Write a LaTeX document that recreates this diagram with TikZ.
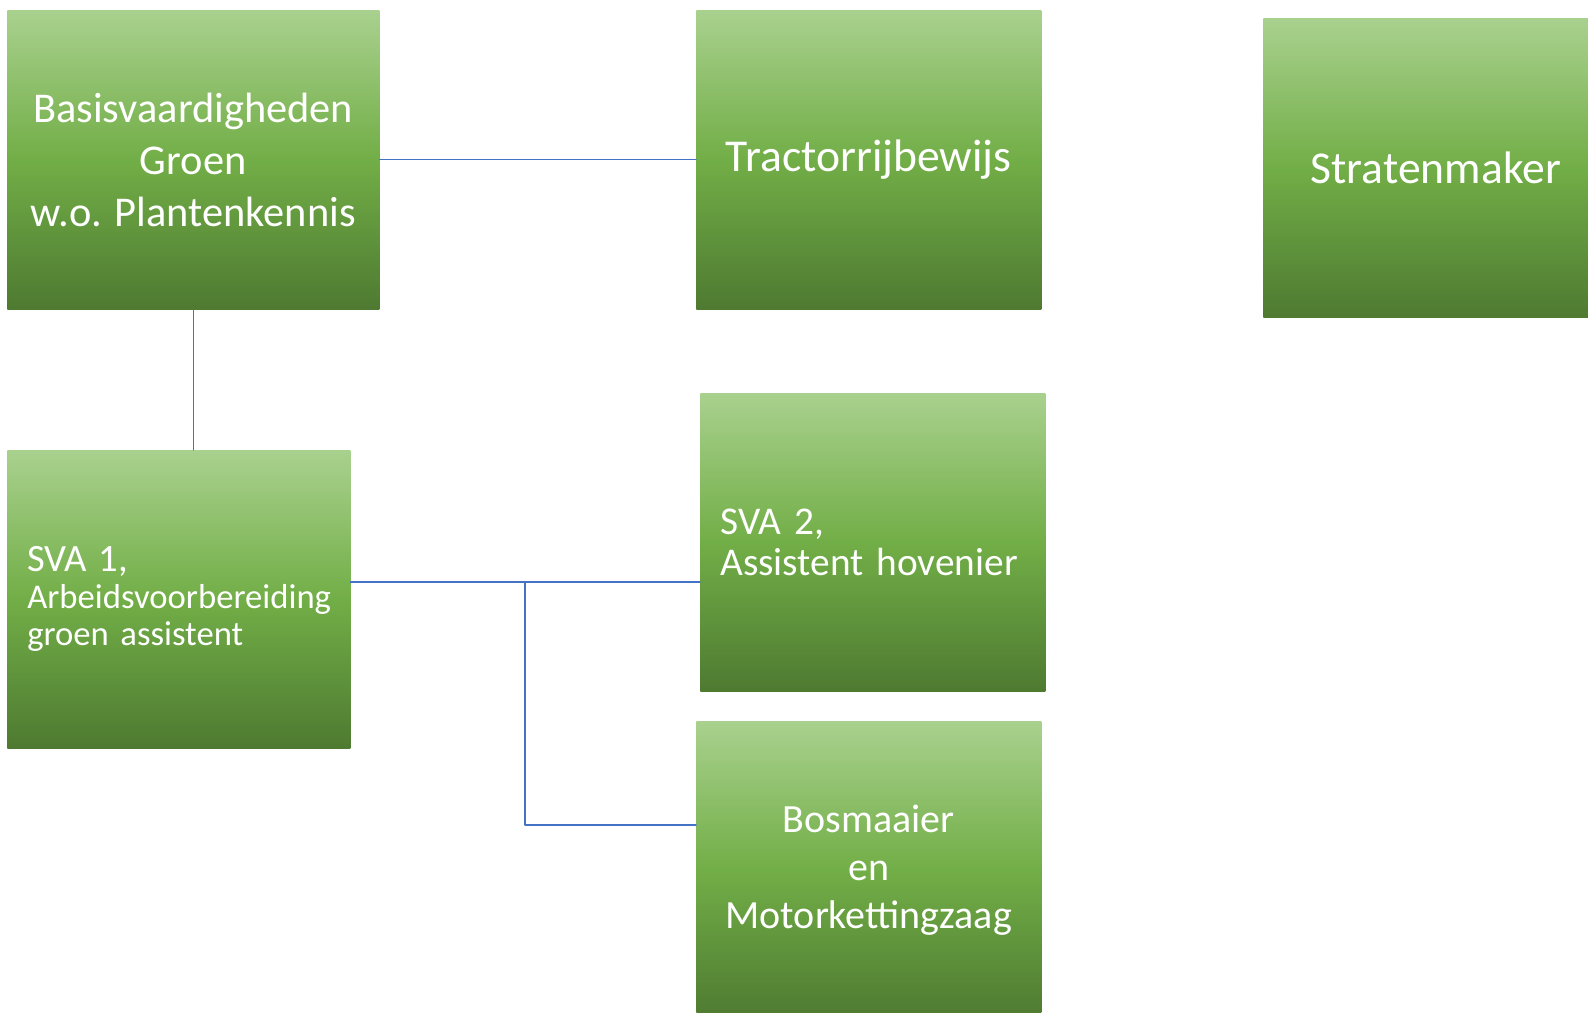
\documentclass[tikz,border=0pt]{standalone}
\usepackage{fontspec}
\setmainfont{Carlito}
\definecolor{lightgreen}{HTML}{A9D18E}
\definecolor{midgreen}{HTML}{72AE47}
\definecolor{darkgreen}{HTML}{4E7A31}
\definecolor{linkblue}{HTML}{4472C4}
\tikzset{
  skill/.style={rectangle, anchor=north west, inner sep=0pt, minimum width=258.75pt, minimum height=223.5pt,
    top color=lightgreen, bottom color=darkgreen, middle color=midgreen, text=white, align=center},
  link/.style={draw=linkblue, line width=1pt}
}
\begin{document}
\begin{tikzpicture} [x=0.75pt, y=-0.75pt, line join=round, line cap=round]
				\useasboundingbox (0,0) rectangle (1588,1013);
				\node[skill, minimum width=279pt, minimum height=224.25pt, font=\fontsize{31.8}{39}\selectfont] (basis) at (7,10) {Basisvaardigheden\\Groen\\w.o. Plantenkennis};
				\node[skill, minimum height=224.25pt, font=\fontsize{34.2}{40}\selectfont] (tractor) at (696,10) {Tractorrijbewijs};
				\node[skill, minimum height=224.25pt, font=\fontsize{34.2}{40}\selectfont] (straat) at (1263,18) {Stratenmaker};
				\node[skill, minimum width=257.25pt, text width=227.25pt, align=left, font=\fontsize{26}{27.75}\selectfont] (sva1) at (7,450) {{\fontsize{29}{27.75}\selectfont SVA 1,}\\Arbeidsvoorbereiding\\groen assistent};
				\node[skill, text width=228.75pt, align=left, font=\fontsize{29.5}{30.75}\selectfont] (sva2) at (700,393) {SVA 2,\\Assistent hovenier};
				\node[skill, font=\fontsize{30}{36}\selectfont] (bos) at (696,721) {Bosmaaier\\en\\Motorkettingzaag};
				\path
				(525,582) coordinate (split)
				(525,825) coordinate (bend);
				\draw[link] (basis.east) -- (tractor.west);
				\draw[link] (basis.south) -- (basis.south |- sva1.north);
				\draw[link] (sva1.east |- split) -- (sva2.west |- split);
				\draw[link] (split) -- (bend) -- (bend -| bos.west);
			\end{tikzpicture}
\end{document}
